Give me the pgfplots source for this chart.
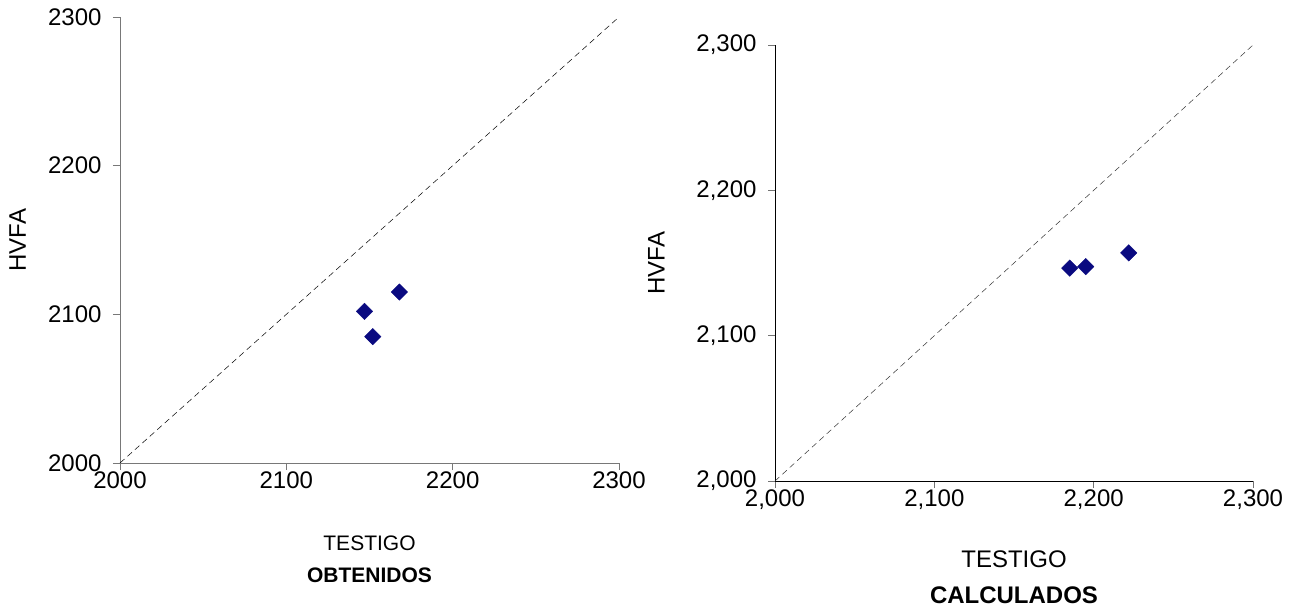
\documentclass[border=0pt]{standalone}
\usepackage{pgfplots}
\pgfplotsset{compat=1.18}
\usepackage{fontspec}
\setmainfont{Liberation Sans}
\definecolor{navy}{RGB}{10,10,128}
\definecolor{axgray}{RGB}{120,120,120}
\newcommand{\fs}{\fontsize{24}{28}\selectfont}
\newcommand{\fl}{\fontsize{21}{25}\selectfont}
\pgfplotsset{
  myax/.style={
    scale only axis,
    xmin=2000, xmax=2300, ymin=2000, ymax=2300,
    xtick={2000,2100,2200,2300}, ytick={2000,2100,2200,2300},
    axis x line*=bottom, axis y line*=left,
    tick align=outside,
    major tick length=7pt,
    tick label style={font=\fs},
    /pgf/number format/assume math mode=true,
    label style={font=\fs},
    clip=false,
    yticklabel style={xshift=-8pt},
    xticklabel style={yshift=2pt},
    xlabel style={at={(axis description cs:0.5,0)}, anchor=north, yshift=-69pt, align=center},
  }
}
\begin{document}
\begin{tikzpicture}
\useasboundingbox (0pt,0pt) rectangle (1305pt,606pt);
% Left chart
\begin{axis}[myax,
  at={(120pt,143pt)}, anchor=origin,
  width=499pt, height=446pt,
  axis line style={axgray, line width=0.9pt},
  major tick style={draw=axgray, line width=0.9pt},
  /pgf/number format/set thousands separator={},
  ylabel={HVFA},
  ylabel style={at={(axis description cs:-0.205,0.5)}, anchor=center},
  xlabel={TESTIGO\\[7pt]\textbf{OBTENIDOS}},
  xlabel style={font=\fl},
]
\addplot[black, line width=0.5pt, dash pattern=on 6pt off 4pt] coordinates {(2000,2000) (2300,2300)};
\addplot[only marks, mark=square*, mark size=5.8pt, mark options={rotate=45, fill=navy, draw=navy}] coordinates {
(2147,2102) (2152,2085) (2168,2115)};
\end{axis}
% Right chart
\begin{axis}[myax,
  at={(775pt,125pt)}, anchor=origin,
  width=478pt, height=436pt,
  axis line style={black, line width=0.7pt},
  major tick style={draw=black!55, line width=0.7pt},
  /pgf/number format/set thousands separator={,},
  ylabel={HVFA},
  ylabel style={at={(axis description cs:-0.248,0.5)}, anchor=center},
  xlabel={TESTIGO\\[8pt]\textbf{CALCULADOS}},
  xlabel style={yshift=3pt},
]
\addplot[black!80, line width=0.5pt, dash pattern=on 6pt off 4pt] coordinates {(2000,2000) (2300,2300)};
\addplot[only marks, mark=square*, mark size=5.8pt, mark options={rotate=45, fill=navy, draw=navy}] coordinates {
(2185,2146.5) (2195,2147.5) (2222,2157)};
\end{axis}
\end{tikzpicture}
\end{document}
